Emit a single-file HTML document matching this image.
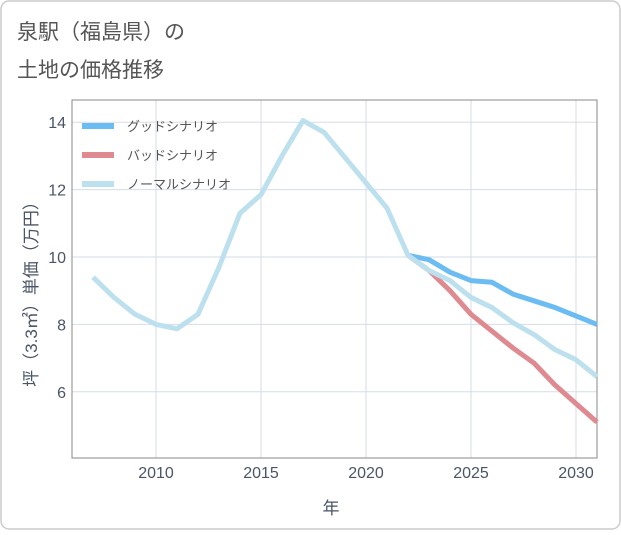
<!DOCTYPE html>
<html><head><meta charset="utf-8"><style>
body{margin:0;background:#fff;font-family:"Liberation Sans","Noto Sans CJK JP",sans-serif;}
#wrap{position:relative;width:621px;height:530px;}
</style></head><body>
<div id="wrap">
<svg id="svg" width="621" height="530" xmlns="http://www.w3.org/2000/svg">
<rect x="1" y="1" width="619" height="528" rx="8" fill="#fff" stroke="#ccc" stroke-width="1.5"/>
<text x="17" y="39" font-size="21" fill="#555">泉駅（福島県）の</text>
<text x="17" y="77" font-size="21" fill="#555">土地の価格推移</text>
<g id="grid"></g>
<rect x="72" y="100" width="525" height="358" fill="none" stroke="#888" stroke-width="1"/>
<g id="series"></g>
<g id="legend"></g>
<text x="331" y="514" font-size="17" fill="#4a5566" text-anchor="middle">年</text>
<text transform="translate(37,290) rotate(-90)" font-size="17" fill="#4a5566" text-anchor="middle">坪（3.3㎡）単価（万円）</text>
</svg>
</div>
<script>
const years=[2007,2008,2009,2010,2011,2012,2013,2014,2015,2016,2017,2018,2019,2020,2021,2022,2023,2024,2025,2026,2027,2028,2029,2030,2031];
const normalValues=[9.4,8.8,8.3,8.0,7.87,8.3,9.7,11.3,11.85,13.0,14.05,13.7,12.95,12.2,11.45,10.05,9.6,9.3,8.8,8.5,8.05,7.7,7.25,6.95,6.45];
const futureYears=[2022,2023,2024,2025,2026,2027,2028,2029,2030,2031];
const goodValues=[10.05,9.92,9.55,9.3,9.25,8.9,8.7,8.5,8.25,8.0];
const badValues=[10.05,9.6,9.0,8.3,7.8,7.3,6.85,6.2,5.65,5.1];
const xTicks=[2010,2015,2020,2025,2030];
const yTicks=[6,8,10,12,14];
const seriesNames=["グッドシナリオ","バッドシナリオ","ノーマルシナリオ"];
const NS="http://www.w3.org/2000/svg";
const x=v=>156+(v-2010)*21;
const y=v=>257-(v-10)*33.7;
function mk(tag,attrs,parent){const e=document.createElementNS(NS,tag);for(const k in attrs)e.setAttribute(k,attrs[k]);parent.appendChild(e);return e;}
const grid=document.getElementById('grid');
xTicks.forEach(t=>{
 const l=mk('line',{x1:x(t),x2:x(t),y1:100,y2:458,stroke:'#d5dde6','stroke-width':1},grid);
 
 
 const tx=mk('text',{x:x(t),y:478,'font-size':16,fill:'#4a5566','text-anchor':'middle'},grid);
 tx.textContent=t;
 
 
});
yTicks.forEach(t=>{
 const l=mk('line',{x1:72,x2:597,y1:y(t),y2:y(t),stroke:'#d5dde6','stroke-width':1},grid);
 
 
 const tx=mk('text',{x:66,y:y(t)+6,'font-size':16,fill:'#4a5566','text-anchor':'end'},grid);
 tx.textContent=t;
 
 
});
const sg=document.getElementById('series');
function line(xs,vs,color,name){
 const p=mk('polyline',{points:xs.map((t,i)=>x(t)+','+y(vs[i])).join(' '),fill:'none',stroke:color,'stroke-width':5,'stroke-linejoin':'round'},sg);
 
 
}
line(futureYears,goodValues,'#6bbcf2','good-scenario-line');
line(futureYears,badValues,'#de8a90','bad-scenario-line');
line(years,normalValues,'#bde0ef','normal-scenario-line');
const lg=document.getElementById('legend');
const colors=['#6bbcf2','#de8a90','#bde0ef'];
seriesNames.forEach((n,i)=>{
 const yy=126+i*29;
 const r=mk('rect',{x:82,y:yy-3,width:32,height:6,fill:colors[i]},lg);
 
 
 const t=mk('text',{x:127,y:yy+5,'font-size':13,fill:'#555'},lg);
 t.textContent=n;
 
 
});
</script>
</body></html>
